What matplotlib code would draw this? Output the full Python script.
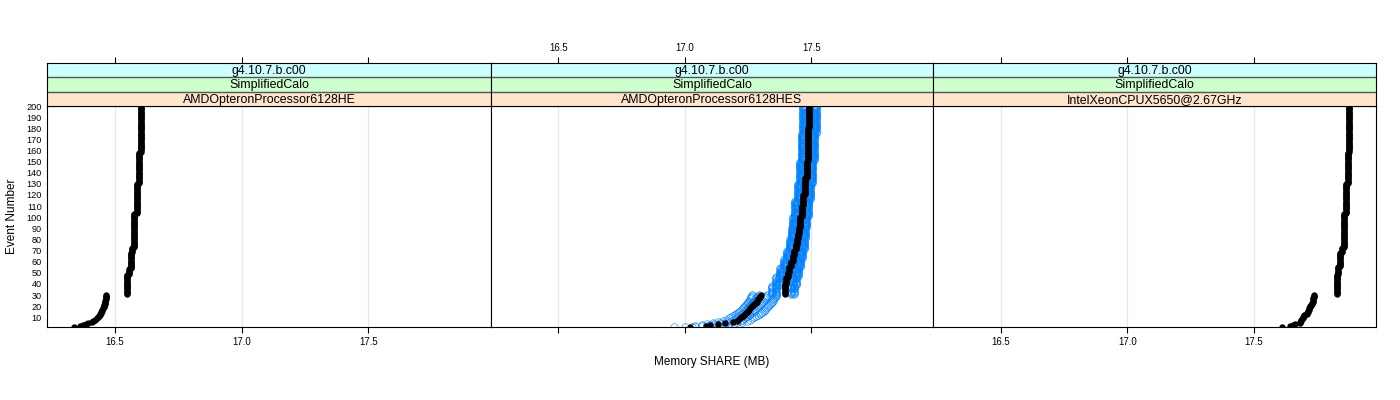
import matplotlib
matplotlib.use("Agg")
import matplotlib.pyplot as plt

plt.rcParams['font.family'] = ['Liberation Sans', 'DejaVu Sans']

# ---------------- data ----------------
strip_top = ["g4.10.7.b.c00", "g4.10.7.b.c00", "g4.10.7.b.c00"]
strip_mid = ["SimplifiedCalo", "SimplifiedCalo", "SimplifiedCalo"]
strip_bot = ["AMDOpteronProcessor6128HE", "AMDOpteronProcessor6128HES",
             "IntelXeonCPUX5650@2.67GHz"]

x_ticks = [16.5, 17.0, 17.5]
x_tick_labels = ["16.5", "17.0", "17.5"]
y_ticks = list(range(10, 201, 10))
x_limits = (16.233, 17.983)
y_limits = (1, 200)

# each series: values for events 1..30, then runs (count, value) for events 31..200
left_early = [16.338, 16.364, 16.372, 16.384, 16.392, 16.409, 16.415, 16.420, 16.428, 16.432,
              16.436, 16.440, 16.442, 16.444, 16.445, 16.448, 16.450, 16.452, 16.455, 16.457,
              16.458, 16.460, 16.460, 16.462, 16.462, 16.463, 16.464, 16.465, 16.465, 16.466]
left_runs = [(18, 16.549), (5, 16.555), (15, 16.562), (4, 16.569), (31, 16.577),
             (27, 16.588), (28, 16.595), (42, 16.601)]

right_early = [17.610, 17.642, 17.652, 17.662, 17.680, 17.682, 17.684, 17.686, 17.693, 17.695,
               17.697, 17.698, 17.708, 17.711, 17.713, 17.714, 17.716, 17.718, 17.720, 17.722,
               17.726, 17.728, 17.730, 17.731, 17.732, 17.733, 17.734, 17.735, 17.736, 17.737]
right_runs = [(18, 17.827), (7, 17.833), (13, 17.840), (4, 17.846), (31, 17.855),
              (27, 17.863), (28, 17.870), (42, 17.876)]

mid_black_early = [17.021, 17.083, 17.100, 17.130, 17.160, 17.190, 17.205, 17.212, 17.218, 17.224,
                   17.229, 17.234, 17.239, 17.244, 17.248, 17.252, 17.256, 17.260, 17.264, 17.268,
                   17.272, 17.276, 17.280, 17.284, 17.287, 17.290, 17.293, 17.296, 17.299, 17.302]
mid_black_runs = [(5, 17.395), (5, 17.398), (5, 17.402), (5, 17.407), (5, 17.413), (5, 17.420),
                  (5, 17.427), (5, 17.433), (5, 17.440), (5, 17.444), (5, 17.448), (5, 17.451),
                  (5, 17.454), (5, 17.457), (10, 17.462), (10, 17.469), (15, 17.476),
                  (15, 17.482), (15, 17.486), (15, 17.489), (20, 17.493)]

mid_blue1_early = [16.958, 17.040, 17.070, 17.090, 17.110, 17.130, 17.150, 17.165, 17.175, 17.185,
                   17.192, 17.198, 17.204, 17.210, 17.215, 17.220, 17.225, 17.230, 17.234, 17.238,
                   17.242, 17.246, 17.249, 17.252, 17.255, 17.258, 17.261, 17.263, 17.265, 17.268]
mid_blue1_runs = [(8, 17.345), (8, 17.360), (8, 17.378), (8, 17.392), (8, 17.405),
                  (10, 17.415), (10, 17.423), (10, 17.430), (15, 17.438), (15, 17.447),
                  (20, 17.455), (25, 17.462), (25, 17.467)]

mid_blue2_early = [17.000, 17.070, 17.095, 17.115, 17.140, 17.165, 17.185, 17.195, 17.203, 17.210,
                   17.216, 17.222, 17.228, 17.233, 17.238, 17.243, 17.247, 17.251, 17.255, 17.259,
                   17.263, 17.267, 17.271, 17.274, 17.277, 17.280, 17.283, 17.286, 17.289, 17.292]
mid_blue2_runs = [(8, 17.362), (8, 17.372), (8, 17.386), (8, 17.399), (8, 17.412),
                  (10, 17.422), (10, 17.430), (10, 17.437), (15, 17.445), (15, 17.454),
                  (20, 17.462), (25, 17.469), (25, 17.474)]

mid_blue3_early = [17.030, 17.095, 17.115, 17.145, 17.175, 17.205, 17.220, 17.228, 17.235, 17.242,
                   17.248, 17.254, 17.259, 17.264, 17.269, 17.274, 17.279, 17.283, 17.287, 17.291,
                   17.295, 17.299, 17.303, 17.307, 17.310, 17.313, 17.316, 17.319, 17.322, 17.325]
mid_blue3_runs = [(8, 17.420), (8, 17.430), (8, 17.440), (8, 17.447), (8, 17.455),
                  (10, 17.463), (10, 17.469), (10, 17.474), (15, 17.480), (15, 17.487),
                  (20, 17.498), (25, 17.505), (25, 17.511)]

mid_blue4_early = [17.040, 17.105, 17.130, 17.160, 17.195, 17.225, 17.245, 17.258, 17.268, 17.276,
                   17.283, 17.290, 17.296, 17.302, 17.307, 17.312, 17.317, 17.322, 17.326, 17.330,
                   17.334, 17.338, 17.342, 17.345, 17.348, 17.351, 17.354, 17.357, 17.360, 17.363]
mid_blue4_runs = [(8, 17.432), (8, 17.442), (8, 17.448), (8, 17.455), (8, 17.462),
                  (10, 17.470), (10, 17.476), (10, 17.480), (15, 17.486), (15, 17.494),
                  (20, 17.505), (25, 17.512), (25, 17.518)]


def series(early, runs):
    vals = list(early)
    for n, v in runs:
        vals.extend([v] * n)
    return vals


events = list(range(1, 201))
black_series = [series(left_early, left_runs),
                series(mid_black_early, mid_black_runs),
                series(right_early, right_runs)]
blue_series = [[], [series(mid_blue1_early, mid_blue1_runs),
                    series(mid_blue2_early, mid_blue2_runs),
                    series(mid_blue3_early, mid_blue3_runs),
                    series(mid_blue4_early, mid_blue4_runs)], []]

# ---------------- layout ----------------
W, H = 1400, 400
fig = plt.figure(figsize=(W / 100, H / 100), dpi=100)
panel_x = [(47.3, 490.7), (490.7, 933.3), (933.3, 1376.3)]
py0, py1 = 106.0, 327.3
sy0 = 62.7

strip_cols = ["#FFE5CC", "#CCFFCC", "#CCFFFF"]
tick_len = 4.3

for i, (x0, x1) in enumerate(panel_x):
    ax = fig.add_axes([x0 / W, 1 - py1 / H, (x1 - x0) / W, (py1 - py0) / H])
    ax.set_xlim(*x_limits)
    ax.set_ylim(*y_limits)
    for xv in x_ticks:
        ax.axvline(xv, color="#E6E6E6", lw=0.9, zorder=0)
    for bs in blue_series[i]:
        ax.plot(bs, events, linestyle="none", marker="o", ms=5.4, mfc="none",
                mec="#0080FF", mew=0.4, zorder=2)
    ax.plot(black_series[i], events, linestyle="none", marker="o", ms=4.6,
            mfc="black", mec="black", mew=0, zorder=3)
    ax.set_xticks(x_ticks)
    ax.set_xticklabels(x_tick_labels)
    ax.tick_params(axis="x", direction="out", length=tick_len, width=0.8,
                   labelsize=6.9, pad=2.5, top=False,
                   labelbottom=(i != 1))
    if i == 0:
        ax.set_yticks(y_ticks)
        ax.set_yticklabels([str(v) for v in y_ticks])
        ax.tick_params(axis="y", direction="out", length=0, labelsize=6.6, pad=4)
    else:
        ax.set_yticks([])
    for sp in ax.spines.values():
        sp.set_linewidth(0.8)
        sp.set_color("black")

    sax = fig.add_axes([x0 / W, 1 - py0 / H, (x1 - x0) / W, (py0 - sy0) / H])
    sax.set_xlim(*x_limits)
    sax.set_ylim(0, 3)
    xm = (x_limits[0] + x_limits[1]) / 2
    for k, (col, txt) in enumerate(zip(strip_cols, [strip_bot[i], strip_mid[i], strip_top[i]])):
        sax.axhspan(k, k + 1, color=col, zorder=0)
        sax.text(xm, k + 0.44, txt, ha="center", va="center", fontsize=8.9, zorder=2)
    for k in (1, 2):
        sax.axhline(k, color="#555555", lw=1.0, zorder=1)
    sax.set_yticks([])
    sax.set_xticks(x_ticks)
    sax.set_xticklabels(x_tick_labels)
    sax.tick_params(axis="x", direction="out", length=tick_len, width=0.8,
                    labelsize=6.9, pad=2.5, bottom=False, labelbottom=False,
                    top=True, labeltop=(i == 1))
    for sp in sax.spines.values():
        sp.set_linewidth(0.8)
        sp.set_color("black")

fig.text((47.3 + 1376.3) / 2 / W, 1 - 362 / H, "Memory SHARE (MB)",
         ha="center", va="center", fontsize=8.5)
fig.text(12 / W, 1 - 216.6 / H, "Event Number", ha="center", va="center",
         rotation=90, fontsize=8.5)

fig.savefig("out.png", dpi=100)
